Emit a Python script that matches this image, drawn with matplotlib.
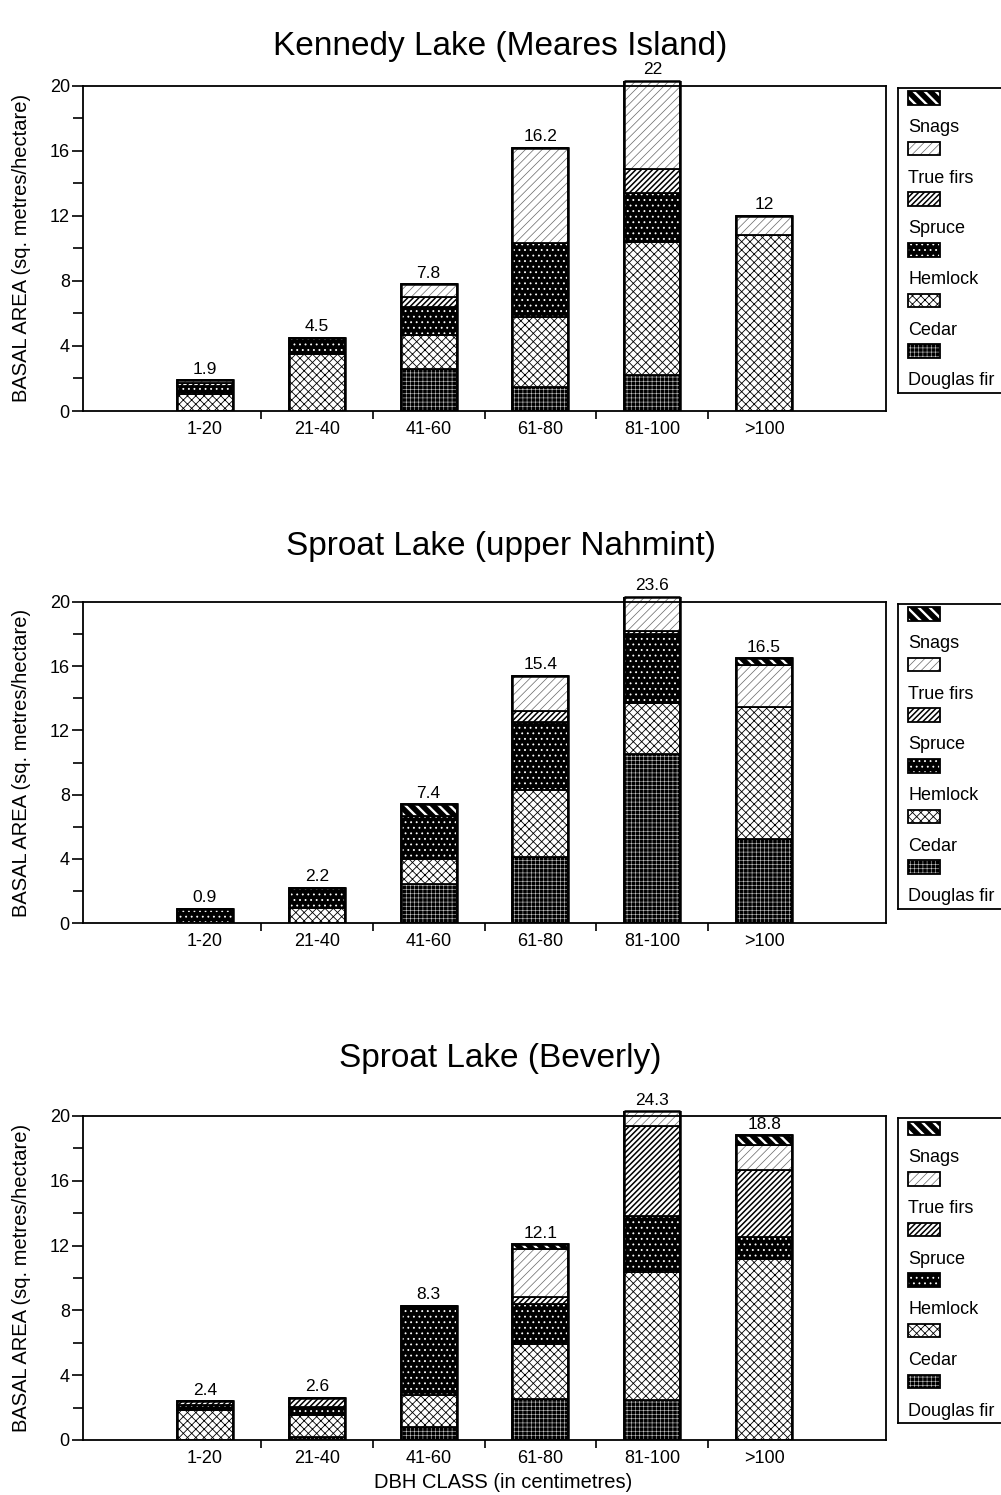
import numpy as np
import matplotlib
matplotlib.use("Agg")
import matplotlib.pyplot as plt
from matplotlib.patches import Rectangle

plt.rcParams["font.family"] = ["Liberation Sans", "DejaVu Sans"]

# ---- data -------------------------------------------------------------
classes = ["1-20", "21-40", "41-60", "61-80", "81-100", ">100"]
species = ["Douglas fir", "Cedar", "Hemlock", "Spruce", "True firs", "Snags"]

titles = ["Kennedy Lake (Meares Island)",
          "Sproat Lake (upper Nahmint)",
          "Sproat Lake (Beverly)"]

# basal area (sq. metres/hectare) by DBH class, stacked bottom -> top
kennedy_douglas = [0, 0, 2.6, 1.5, 2.2, 0]
kennedy_cedar = [1.05, 3.5, 2.1, 4.3, 8.2, 10.8]
kennedy_hemlock = [0.5, 1.0, 1.7, 4.5, 3.0, 0]
kennedy_spruce = [0.15, 0, 0.6, 0, 1.5, 0]
kennedy_truefirs = [0.2, 0, 0.8, 5.9, 7.1, 1.2]
kennedy_snags = [0, 0, 0, 0, 0, 0]

nahmint_douglas = [0, 0, 2.45, 4.1, 10.5, 5.25]
nahmint_cedar = [0, 0.95, 1.55, 4.2, 3.2, 8.2]
nahmint_hemlock = [0.9, 1.25, 2.65, 4.2, 4.3, 0]
nahmint_spruce = [0, 0, 0, 0.7, 0.15, 0]
nahmint_truefirs = [0, 0, 0, 2.2, 5.45, 2.6]
nahmint_snags = [0, 0, 0.75, 0, 0, 0.45]

beverly_douglas = [0, 0.2, 0.8, 2.55, 2.5, 0]
beverly_cedar = [1.85, 1.35, 2.0, 3.4, 7.9, 11.15]
beverly_hemlock = [0.3, 0.5, 5.5, 2.45, 3.45, 1.4]
beverly_spruce = [0.25, 0.55, 0, 0.4, 5.55, 4.1]
beverly_truefirs = [0, 0, 0, 3.0, 4.9, 1.55]
beverly_snags = [0, 0, 0, 0.3, 0, 0.6]

y_ticks = [0, 4, 8, 12, 16, 20]

sites = [
    [kennedy_douglas, kennedy_cedar, kennedy_hemlock,
     kennedy_spruce, kennedy_truefirs, kennedy_snags],
    [nahmint_douglas, nahmint_cedar, nahmint_hemlock,
     nahmint_spruce, nahmint_truefirs, nahmint_snags],
    [beverly_douglas, beverly_cedar, beverly_hemlock,
     beverly_spruce, beverly_truefirs, beverly_snags],
]

# ---- fill styles: face colour, hatch, hatch colour, hatch width -------
styles = {
    "Douglas fir": ("black", "++++", "#c8c8c8", 0.4),
    "Cedar": ("white", "xxxx", "black", 0.6),
    "Hemlock": ("black", "...", "white", 0.6),
    "Spruce": ("white", "//////", "black", 1.1),
    "True firs": ("white", "////", "#666666", 0.5),
    "Snags": ("black", "\\\\\\", "white", 1.7),
}

W, H = 1001, 1495
fig = plt.figure(figsize=(W / 100, H / 100), dpi=100)


def px_rect(left, top, right, bottom):
    return [left / W, 1 - bottom / H, (right - left) / W, (bottom - top) / H]


def hatched(draw, style):
    face, hatch, hcol, hlw = style
    with plt.rc_context({"hatch.linewidth": hlw}):
        art = draw(face, hatch, hcol)
    patches = art.patches if hasattr(art, "patches") else [art]
    for p in patches:
        if hasattr(p, "set_hatch_linewidth"):
            p.set_hatch_linewidth(hlw)
    return patches


panel_px = [(83, 85.7, 886, 411), (83, 601.7, 886, 923.3), (83, 1116, 886, 1440)]
title_y = [47, 546, 1059]
x = np.arange(len(classes))
width = 0.5
cap = 20.3

for k, (left, top, right, bottom) in enumerate(panel_px):
    ax = fig.add_axes(px_rect(left, top, right, bottom))
    data = sites[k]
    clip = Rectangle((-2, 0), 10, cap, transform=ax.transData)
    base = np.zeros(len(classes))
    for name, vals in zip(species, data):
        vals = np.asarray(vals, dtype=float)
        segs = hatched(lambda f, h, c: ax.bar(x, vals, width, bottom=base,
                                               color=f, edgecolor=c,
                                               linewidth=0, hatch=h),
                       styles[name])
        outl = ax.bar(x, vals, width, bottom=base, fill=False,
                      edgecolor="black", linewidth=1.3)
        for p in list(segs) + list(outl.patches):
            p.set_clip_path(clip)
        base = base + vals
    totals = base
    frame = ax.bar(x, totals, width, fill=False, edgecolor="black", linewidth=1.8)
    for p in frame.patches:
        p.set_clip_path(clip)
    over = totals > cap
    ax.hlines(np.full(over.sum(), cap), x[over] - width / 2, x[over] + width / 2,
              color="black", linewidth=1.8, clip_on=False)
    for xi, t in zip(x, totals):
        ax.annotate(f"{round(t, 1):g}", (xi, min(t, cap)), xytext=(0, 2.5),
                    textcoords="offset points", ha="center", va="bottom",
                    fontsize=12.5, annotation_clip=False)

    ax.set_xlim(-1.09, 6.09)
    ax.set_ylim(0, 20)
    ax.set_yticks(y_ticks)
    ax.set_yticks(np.arange(2, 20, 4), minor=True)
    ax.set_xticks(x)
    ax.set_xticklabels(classes)
    ax.set_xticks(x[:-1] + 0.5, minor=True)
    ax.tick_params(axis="y", which="major", direction="out", length=8,
                   width=1.2, pad=1.5, labelsize=13)
    ax.tick_params(axis="y", which="minor", direction="out", length=7, width=1.2)
    ax.tick_params(axis="x", which="major", length=0, pad=7, labelsize=13)
    ax.tick_params(axis="x", which="minor", direction="out", length=6, width=1.2)
    for s in ax.spines.values():
        s.set_linewidth(1.3)

    fig.text(0.5, 1 - title_y[k] / H, titles[k], ha="center", va="center",
             fontsize=24)
    fig.text(22 / W, 1 - (top + bottom) / 2 / H,
             "BASAL AREA (sq. metres/hectare)", rotation=90,
             ha="center", va="center", fontsize=14.5)

    # legend box: swatch with its name underneath
    ltop = top + 2
    lax = fig.add_axes(px_rect(898, ltop, 1015, ltop + 305))
    lax.set_xlim(0, 117)
    lax.set_ylim(305, 0)
    lax.set_xticks([])
    lax.set_yticks([])
    for s in lax.spines.values():
        s.set_linewidth(1.3)
    for i, name in enumerate(species[::-1]):
        y0 = 3.5 + i * 50.6
        hatched(lambda f, h, c: lax.add_patch(
            Rectangle((10, y0), 32, 13.5, facecolor=f, edgecolor=c,
                      linewidth=0, hatch=h)), styles[name])
        lax.add_patch(Rectangle((10, y0), 32, 13.5, fill=False,
                                edgecolor="black", linewidth=1.3))
        lax.text(10, y0 + 36.5, name, ha="left", va="center", fontsize=13)

fig.text(503 / W, 1 - 1483 / H, "DBH CLASS (in centimetres)",
         ha="center", va="center", fontsize=14.5)

fig.savefig("out.png", dpi=100)
